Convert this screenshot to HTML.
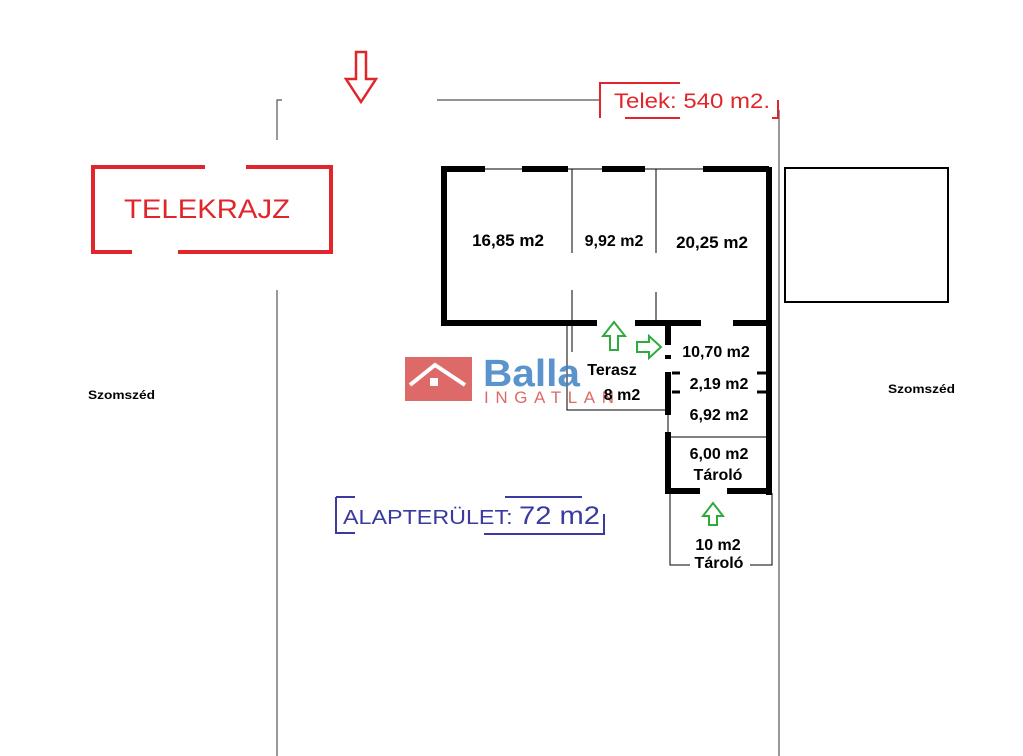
<!DOCTYPE html>
<html><head><meta charset="utf-8"><style>body{margin:0;background:#fff}svg{display:block}text{font-family:"Liberation Sans",sans-serif}</style></head><body>
<svg width="1023" height="756" viewBox="0 0 1023 756">
<rect width="1023" height="756" fill="#fff"/>
<g stroke="#555" stroke-width="1.2" fill="none">
<path d="M282 100H277V140M277 290V756"/>
<path d="M437 100H600"/>
<path d="M779 110V756"/>
</g>
<path d="M356 52h10v27h10l-15 23l-15-23h10z" fill="none" stroke="#e0262b" stroke-width="2.5"/>
<g stroke="#e0262b" stroke-width="4" fill="none">
<path d="M205 167H93V252H132M178 252H331V167H246"/>
</g>
<text x="124" y="218" font-size="27" fill="#e0262b" textLength="166" lengthAdjust="spacingAndGlyphs">TELEKRAJZ</text>
<g stroke="#e0262b" stroke-width="2" fill="none">
<path d="M680 83H600V118M625 118H680M772 118H778V100"/>
</g>
<text x="614" y="108" font-size="21" fill="#e0262b" textLength="156" lengthAdjust="spacingAndGlyphs">Telek: 540 m2.</text>
<rect x="785" y="168" width="163" height="134" fill="none" stroke="#000" stroke-width="2"/>
<g stroke="#000" stroke-width="1" fill="none">
<path d="M441 169H769M572 169V253M572 290V352M656 169V253M656 292V323M567 325V410H668M668 415V432M668 437H769M670 493V565H690M750 565H772V493"/>
</g>
<g stroke="#000" stroke-width="6" fill="none">
<path d="M441 169H485M522 169H568M602 169H645M703 169H769M444 167V325M441 323H597M635 323H701M733 323H769M769 167V495M668 323V345M668 355V359M668 372V415M668 432V493M665 491H700M727 491H772"/>
</g>
<g stroke="#000" stroke-width="3"><path d="M672 373H680M757 373H769M672 392H680M757 392H769"/></g>
<g fill="none" stroke="#2eaa3e" stroke-width="2">
<path d="M610 350h8v-14h7l-11-14l-11 14h7z"/>
<path d="M637 342h12v-6l12 11l-12 11v-6h-12z"/>
<path d="M709 525h8v-9h6l-10-13l-10 13h6z"/>
</g>
<g opacity="0.85">
<path d="M405 357h67v44h-67z" fill="#d94f4f"/>
<path d="M410 385l25-20l30 20" stroke="#fff" stroke-width="4" fill="none"/>
<rect x="430" y="378" width="8" height="8" fill="#fff"/>
<text x="483" y="386" font-size="38" font-weight="bold" fill="#3f82c4" textLength="97" lengthAdjust="spacingAndGlyphs">Balla</text>
<text x="484" y="403" font-size="17" fill="#d94f4f" textLength="130" lengthAdjust="spacing">INGATLAN</text>
</g>
<g font-size="16" font-weight="bold" fill="#000" text-anchor="middle">
<text x="508" y="246" font-size="17">16,85 m2</text>
<text x="614" y="246">9,92 m2</text>
<text x="712" y="248" font-size="17">20,25 m2</text>
<text x="716" y="357">10,70 m2</text>
<text x="719" y="389">2,19 m2</text>
<text x="719" y="420">6,92 m2</text>
<text x="719" y="459">6,00 m2</text>
<text x="718" y="480">Tároló</text>
<text x="718" y="550">10 m2</text>
<text x="719" y="568">Tároló</text>
<text x="612" y="375">Terasz</text>
<text x="622" y="400">8 m2</text>
</g>
<text x="88" y="399" font-size="12" font-weight="bold" fill="#000" textLength="67" lengthAdjust="spacingAndGlyphs">Szomszéd</text>
<text x="888" y="393" font-size="12" font-weight="bold" fill="#000" textLength="67" lengthAdjust="spacingAndGlyphs">Szomszéd</text>
<g stroke="#3a3aa0" stroke-width="2" fill="none">
<path d="M336 497H355M336 497V533H355M505 497H582M484 534H604V514"/>
</g>
<text x="343" y="524" font-size="20" fill="#3a3aa0" textLength="257" lengthAdjust="spacingAndGlyphs">ALAPTERÜLET: <tspan font-size="25">72 m2</tspan></text>
</svg>
</body></html>
